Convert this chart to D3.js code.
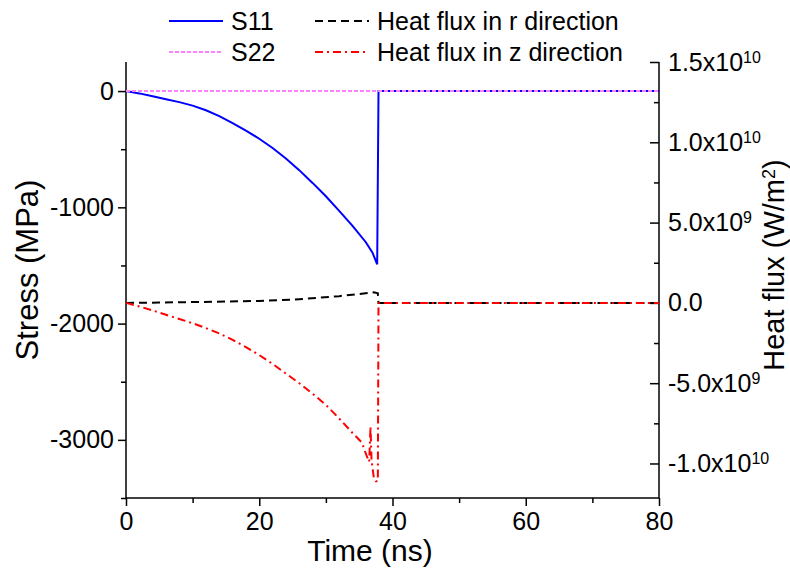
<!DOCTYPE html>
<html><head><meta charset="utf-8">
<script src="https://cdn.jsdelivr.net/npm/d3@7"></script>
<style>
body{margin:0;background:#fff}
svg{display:block}
text{font-family:"Liberation Sans",Arial,sans-serif;fill:#000}
</style></head>
<body>
<svg id="c" width="790" height="569"></svg>
<script>
// ---- data ----
const timeS11 = [0, 2, 4, 6, 8, 10, 12, 14, 16, 18, 20, 22, 24, 26, 28, 30, 32, 34, 36, 37, 37.7, 37.9, 80];
const valS11  = [0, -20, -45, -70, -95, -125, -165, -215, -275, -340, -410, -490, -580, -680, -790, -905, -1030, -1160, -1300, -1390, -1490, 0, 0];
const timeS22 = [0, 80];
const valS22  = [0, 0];
const timeHr = [0, 5, 10, 15, 20, 25, 29, 32, 35, 36.5, 37.2, 37.8, 37.9, 80];
const valHr  = [0, 0.02e9, 0.05e9, 0.08e9, 0.12e9, 0.2e9, 0.32e9, 0.42e9, 0.55e9, 0.62e9, 0.66e9, 0.6e9, 0, 0];
const timeHz = [0, 2, 4, 6, 8, 10, 12, 14, 16, 18, 20, 22, 24, 26, 28, 30, 32, 34, 35.4, 36.1, 36.5, 36.7, 36.85, 37.2, 37.5, 37.8, 37.9, 80];
const valHz  = [0, -0.22e9, -0.47e9, -0.74e9, -1.0e9, -1.27e9, -1.57e9, -1.9e9, -2.3e9, -2.75e9, -3.25e9, -3.8e9, -4.4e9, -5.0e9, -5.65e9, -6.35e9, -7.2e9, -8.1e9, -8.7e9, -9.5e9, -9.9e9, -7.7e9, -9.8e9, -10.9e9, -11.1e9, -11.1e9, 0, 0];

const xTicks = [0, 20, 40, 60, 80];
const xMinor = [10, 30, 50, 70];
const yLeftTicks = [0, -1000, -2000, -3000];
const yLeftMinor = [-500, -1500, -2500, -3500];
const yRightTicks = [1.5e10, 1.0e10, 5e9, 0, -5e9, -1.0e10];
const yRightMinor = [1.25e10, 7.5e9, 2.5e9, -2.5e9, -7.5e9];
const yRightLabels = [["1.5x10","10"],["1.0x10","10"],["5.0x10","9"],["0.0",""],["-5.0x10","9"],["-1.0x10","10"]];

const seriesNames = ["S11", "S22", "Heat flux in r direction", "Heat flux in z direction"];
const seriesColors = ["#0000ff", "#ff80ff", "#000000", "#ff0000"];
const seriesDash = ["", "4,2", "8,5", "8,4,2,4"];

// ---- layout ----
const L = 126, R = 659, T = 62, B = 498;
const svg = d3.select("#c");
const x = d3.scaleLinear().domain([0, 80]).range([L, R]);
const yL = d3.scaleLinear().domain([-3500, 250]).range([B, T]);
const yR = d3.scaleLinear().domain([-1.215e10, 1.5e10]).range([B, T]);

const fs = 25;
const fmt = d => String(d);

function styleAxis(g){
  g.select(".domain").remove();
  g.selectAll("line").attr("stroke","#000").attr("stroke-width",1.5);
  g.selectAll("text").style("font-size", fs+"px");
}
// bottom
svg.append("g").attr("transform",`translate(0,${B})`)
  .call(d3.axisBottom(x).tickValues(xTicks).tickSize(8).tickPadding(6).tickFormat(fmt)).call(styleAxis);
svg.append("g").attr("transform",`translate(0,${B})`)
  .call(d3.axisBottom(x).tickValues(xMinor).tickSize(5).tickFormat("")).call(styleAxis);
// left
svg.append("g").attr("transform",`translate(${L},0)`)
  .call(d3.axisLeft(yL).tickValues(yLeftTicks).tickSize(8).tickPadding(4).tickFormat(fmt)).call(styleAxis);
svg.append("g").attr("transform",`translate(${L},0)`)
  .call(d3.axisLeft(yL).tickValues(yLeftMinor).tickSize(5).tickFormat("")).call(styleAxis);
// right
const gr = svg.append("g").attr("transform",`translate(${R},0)`)
  .call(d3.axisRight(yR).tickValues(yRightTicks).tickSizeInner(-9).tickSizeOuter(0).tickPadding(9));
styleAxis(gr);
gr.selectAll("text").each(function(d,i){
  const t = d3.select(this); t.text("");
  const lab = yRightLabels[i];
  t.append("tspan").text(lab[0]);
  if(lab[1]) t.append("tspan").attr("dy","-0.5em").style("font-size","16px").text(lab[1]);
});
svg.append("g").attr("transform",`translate(${R},0)`)
  .call(d3.axisRight(yR).tickValues(yRightMinor).tickSizeInner(-5).tickSizeOuter(0).tickFormat("")).call(styleAxis);

// axis lines
const axisLine = (x1,y1,x2,y2)=>svg.append("line").attr("x1",x1).attr("y1",y1).attr("x2",x2).attr("y2",y2).attr("stroke","#000").attr("stroke-width",1.5);
axisLine(L,T,L,B); axisLine(L,B,R,B); axisLine(R,T,R,B);

// titles
svg.append("text").attr("x",370).attr("y",561).attr("text-anchor","middle").style("font-size","30px").text("Time (ns)");
svg.append("text").attr("transform","translate(38,270) rotate(-90)").attr("text-anchor","middle").style("font-size","31px").text("Stress (MPa)");
const rt = svg.append("text").attr("transform","translate(784,265) rotate(-90)").attr("text-anchor","middle").style("font-size","29px");
rt.append("tspan").text("Heat flux (W/m");
rt.append("tspan").attr("dy","-0.5em").style("font-size","18px").text("2");
rt.append("tspan").attr("dy","0.3em").text(")");

// series
const mk = (ts, vs) => ts.map((t,i)=>[t, vs[i]]);
const lineL = d3.line().x(d=>x(d[0])).y(d=>yL(d[1]));
const lineR = d3.line().x(d=>x(d[0])).y(d=>yR(d[1]));
const data = [
  {d: mk(timeS11, valS11), ln: lineL},
  {d: mk(timeS22, valS22), ln: lineL},
  {d: mk(timeHr, valHr), ln: lineR},
  {d: mk(timeHz, valHz), ln: lineR},
];
data.forEach((s,i)=>{
  svg.append("path").attr("d", s.ln(s.d)).attr("fill","none")
    .attr("stroke", seriesColors[i]).attr("stroke-width", 2)
    .attr("stroke-dasharray", seriesDash[i] || null);
});

// legend
const legPos = [[169,21],[169,52],[315,21],[315,52]];
seriesNames.forEach((n,i)=>{
  const [lx,ly] = legPos[i];
  svg.append("line").attr("x1",lx).attr("x2",lx+54).attr("y1",ly).attr("y2",ly)
    .attr("stroke",seriesColors[i]).attr("stroke-width",2).attr("stroke-dasharray",seriesDash[i]||null);
  svg.append("text").attr("x",lx+62).attr("y",ly+9).style("font-size",fs+"px").text(n);
});
</script>
</body></html>
